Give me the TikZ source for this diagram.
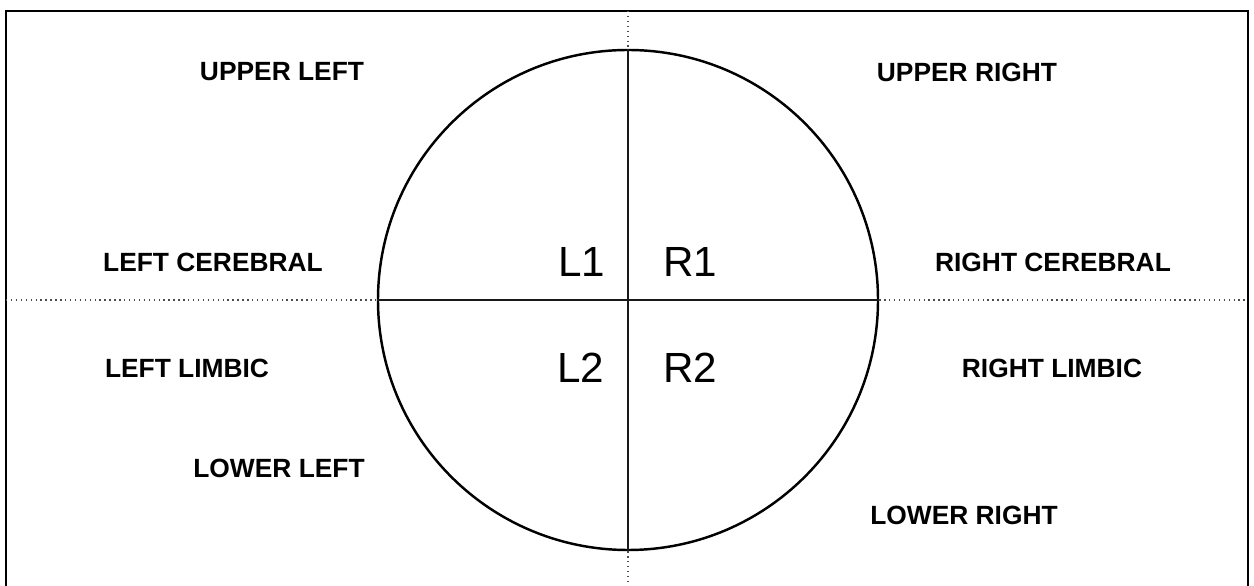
\documentclass[tikz,border=0pt]{standalone}
\usepackage{fontspec}
\setmainfont{Liberation Sans}
\usetikzlibrary{positioning}

\begin{document}
\begin{tikzpicture}[
  x=1cm, y=1cm,
  quad/.style={font=\fontsize{15}{18}\selectfont\bfseries},
  zone/.style={font=\fontsize{24}{28}\selectfont},
  solidline/.style={line width=1.3pt, black!90},
  guide/.style={line width=0.8pt, dotted, black!70},
]
  \useasboundingbox (0,0) rectangle (25.08,11.72);

  % frame (no bottom edge)
  \coordinate (fsw) at (0.12,0);
  \coordinate (fnw) at (0.12,11.5);
  \coordinate (fne) at (24.96,11.5);
  \coordinate (fse) at (24.96,0);
  \draw[line width=1.5pt] (fsw) -- (fnw) -- (fne) -- (fse);

  % brain circle
  \node[circle, draw, line width=1.4pt, minimum size=10cm, inner sep=0pt] (brain) at (12.56,5.72) {};
  \coordinate (ftop) at (12.56,11.5);
  \coordinate (fbot) at (12.56,0);
  \coordinate (fleft) at (0.12,5.72);
  \coordinate (fright) at (24.96,5.72);

  \draw[solidline] (brain.west) -- (brain.east);
  \draw[solidline] (brain.north) -- (brain.south);
  \draw[guide] (fleft) -- (brain.west);
  \draw[guide] (brain.east) -- (fright);
  \draw[guide] (ftop) -- (brain.north);
  \draw[guide] (brain.south) -- (fbot);

  % quadrant labels
  \node[zone] (l1) at (11.64,6.48) {L1};
  \node[zone] (r1) at (13.80,6.48) {R1};
  \node[zone] (l2) at (11.62,4.36) {L2};
  \node[zone] (r2) at (13.80,4.36) {R2};

  % outer labels
  \node[quad] (ul)  at (5.64,10.28)  {UPPER LEFT};
  \node[quad] (ur)  at (19.34,10.28) {UPPER RIGHT};
  \node[quad] (lc)  at (4.26,6.48)   {LEFT CEREBRAL};
  \node[quad] (rc)  at (21.06,6.48)  {RIGHT CEREBRAL};
  \node[quad] (ll)  at (3.74,4.36)   {LEFT LIMBIC};
  \node[quad] (rl)  at (21.04,4.36)  {RIGHT LIMBIC};
  \node[quad] (lol) at (5.58,2.36)   {LOWER LEFT};
  \node[quad] (lor) at (19.28,1.42)  {LOWER RIGHT};
\end{tikzpicture}
\end{document}
